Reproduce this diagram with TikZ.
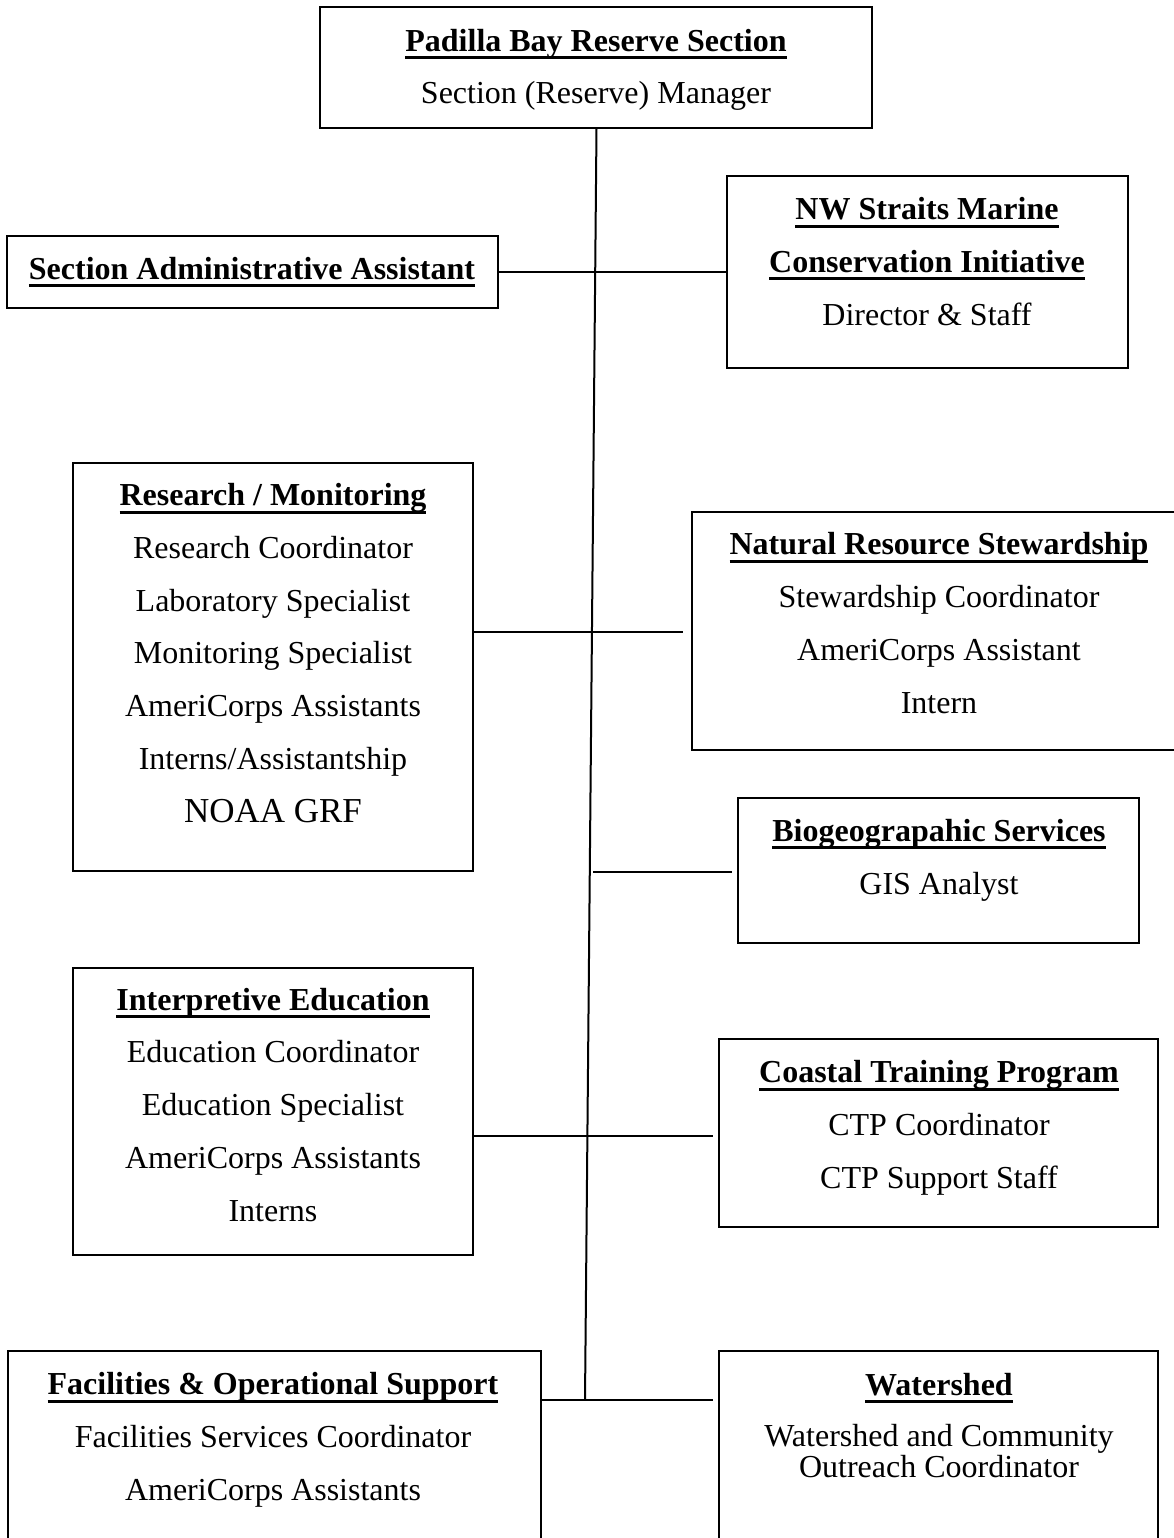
\documentclass[tikz,border=0pt]{standalone}
\usepackage{fontspec}
\setmainfont{Liberation Serif}
\newcommand\ulh[1]{\setbox0\hbox{\bfseries #1}\rlap{\rule[-8pt]{\wd0}{3pt}}\box0}
\begin{document}
\begin{tikzpicture}[x=1pt,y=-1pt,
  box/.style={draw,line width=2.5pt},
  txt/.style={anchor=base,align=center,inner sep=0pt,font=\fontsize{32}{52.7}\selectfont},
  link/.style={line width=2.5pt}]
\useasboundingbox (0,0) rectangle (1173,1538);
\fill[white] (0,0) rectangle (1173,1538);
% boxes
\draw[box] (320,7) rectangle (872,128);
\coordinate (topS) at (596.5,128);
\draw[box] (7,236) rectangle (498,308);
\draw[box] (727,176) rectangle (1128,368);
\draw[box] (73,463) rectangle (473,871);
\draw[box] (692,512) rectangle (1180,750);
\draw[box] (738,798) rectangle (1139,943);
\draw[box] (73,968) rectangle (473,1255);
\draw[box] (719,1039) rectangle (1158,1227);
\draw[box] (8,1351) rectangle (541,1548);
\draw[box] (719,1351) rectangle (1158,1548);
% texts (anchor base = baseline of last line)
\node[txt] (ttop) at (596,104) {\ulh{Padilla Bay Reserve Section}\\Section (Reserve) Manager};
\node[txt] (tadm) at (252,279) {\ulh{Section Administrative Assistant}};
\node[txt] (tnw) at (927,325) {\ulh{NW Straits Marine}\\\ulh{Conservation Initiative}\\Director \& Staff};
\node[txt] (tres) at (273,822) {\ulh{Research / Monitoring}\\Research Coordinator\\Laboratory Specialist\\Monitoring Specialist\\AmeriCorps Assistants\\Interns/Assistantship\\{\fontsize{35}{52.7}\selectfont NOAA GRF}};
\node[txt] (tnat) at (939,713) {\ulh{Natural Resource Stewardship}\\Stewardship Coordinator\\AmeriCorps Assistant\\Intern};
\node[txt] (tbio) at (939,894) {\ulh{Biogeograpahic Services}\\GIS Analyst};
\node[txt] (tint) at (273,1221) {\ulh{Interpretive Education}\\Education Coordinator\\Education Specialist\\AmeriCorps Assistants\\Interns};
\node[txt] (tctp) at (939,1188) {\ulh{Coastal Training Program}\\CTP Coordinator\\CTP Support Staff};
\node[txt] (tfac) at (273,1500) {\ulh{Facilities \& Operational Support}\\Facilities Services Coordinator\\AmeriCorps Assistants};
\node[txt] (twat) at (939,1395) {\ulh{Watershed}};
\node[txt,font=\fontsize{32}{31}\selectfont] (twat2) at (939,1477) {Watershed and Community\\Outreach Coordinator};
% main line
\coordinate (botM) at (585,1400);
\draw[line width=2pt] (topS) -- (botM);
% connectors
\coordinate (aL) at (498,272); \coordinate (aR) at (727,272);
\draw[link] (aL) -- (aR);
\coordinate (rL) at (473,632); \coordinate (rR) at (683,632);
\draw[link] (rL) -- (rR);
\coordinate (bL) at (593,872); \coordinate (bR) at (732,872);
\draw[link] (bL) -- (bR);
\coordinate (iL) at (473,1136); \coordinate (iR) at (713,1136);
\draw[link] (iL) -- (iR);
\coordinate (fL) at (541,1400); \coordinate (fR) at (713,1400);
\draw[link] (fL) -- (fR);
\end{tikzpicture}
\end{document}
